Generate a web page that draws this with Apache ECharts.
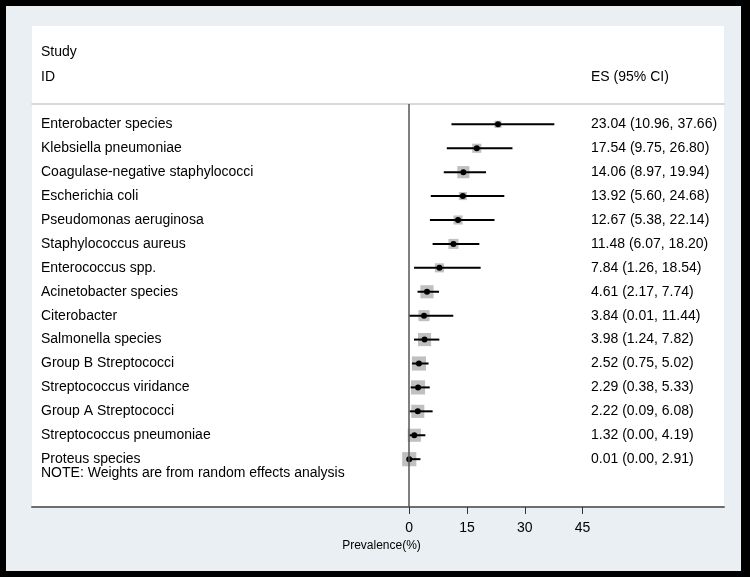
<!DOCTYPE html>
<html><head><meta charset="utf-8">
<script src="https://cdn.jsdelivr.net/npm/echarts@6/dist/echarts.min.js"></script>
<style>html,body{margin:0;padding:0;background:#000;} #c{width:750px;height:577px;}</style>
</head><body><div id="c"></div>
<script>
const studies = [
  'Enterobacter species','Klebsiella pneumoniae','Coagulase-negative staphylococci','Escherichia coli',
  'Pseudomonas aeruginosa','Staphylococcus aureus','Enterococcus spp.','Acinetobacter species',
  'Citerobacter','Salmonella species','Group B Streptococci','Streptococcus viridance',
  'Group A Streptococci','Streptococcus pneumoniae','Proteus species'
];
const es = [23.04,17.54,14.06,13.92,12.67,11.48,7.84,4.61,3.84,3.98,2.52,2.29,2.22,1.32,0.01];
const lower = [10.96,9.75,8.97,5.60,5.38,6.07,1.26,2.17,0.01,1.24,0.75,0.38,0.09,0.00,0.00];
const upper = [37.66,26.80,19.94,24.68,22.14,18.20,18.54,7.74,11.44,7.82,5.02,5.33,6.08,4.19,2.91];
const weights = [2.5,4.1,7.3,3.2,4.1,5.0,4.1,8.5,6.1,8.5,9.9,9.9,8.5,8.5,9.9];
const xTicks = [0,15,30,45];

const esLabels = es.map((v,i)=> v.toFixed(2)+' ('+lower[i].toFixed(2)+', '+upper[i].toFixed(2)+')');
const rowIdx = studies.map((_,i)=>i);
const font = "'Liberation Sans', Arial, sans-serif";
const txt = {fontSize:14, fontWeight:'normal', color:'#000', fontFamily:font};
const X_MIN = -97.9, X_MAX = 81.7, Y_MIN = -0.85, Y_MAX = 16;

const chart = echarts.init(document.getElementById('c'), null, {renderer:'canvas'});
chart.setOption({
  backgroundColor:'#000',
  animation:false,
  textStyle:{fontFamily:font},
  graphic:[
    {type:'rect', shape:{x:6,y:6,width:735,height:565}, style:{fill:'#e9eff2'}, z:-10, silent:true},
    {type:'rect', shape:{x:32,y:26,width:692,height:481}, style:{fill:'#ffffff'}, z:-9, silent:true}
  ],
  title:[
    {text:'Study', left:41, top:45, padding:0, textStyle:txt},
    {text:'ID', left:41, top:70, padding:0, textStyle:txt},
    {text:'ES (95% CI)', left:591, top:70, padding:0, textStyle:txt},
    {text:'NOTE: Weights are from random effects analysis', left:41, top:466, padding:0, textStyle:txt}
  ],
  grid:{left:32, right:26, top:104, bottom:70},
  xAxis:[
    {type:'value', min:X_MIN, max:X_MAX, position:'bottom',
     axisLine:{show:true, onZero:false, lineStyle:{color:'#6e6e6e', width:2}},
     axisTick:{show:true, customValues:xTicks, length:7, lineStyle:{color:'#333', width:1}},
     axisLabel:{customValues:xTicks, fontSize:14, color:'#000', margin:14},
     splitLine:{show:false},
     name:'Prevalence(%)', nameLocation:'middle', nameGap:27,
     nameTextStyle:{fontSize:12, color:'#000', padding:[0,0,0,7]}},
    {type:'value', min:X_MIN, max:X_MAX, position:'top',
     axisLine:{show:true, onZero:false, lineStyle:{color:'#d9d9d9', width:2}},
     axisTick:{show:false}, axisLabel:{show:false}, splitLine:{show:false}}
  ],
  yAxis:[
    {type:'value', inverse:true, min:Y_MIN, max:Y_MAX, position:'left',
     axisLine:{show:false}, axisTick:{show:false}, splitLine:{show:false},
     axisLabel:{customValues:rowIdx, formatter:v=>studies[v], inside:true, margin:9, fontSize:14, color:'#000'}},
    {type:'value', inverse:true, min:Y_MIN, max:Y_MAX, position:'right',
     axisLine:{show:false}, axisTick:{show:false}, splitLine:{show:false},
     axisLabel:{customValues:rowIdx, formatter:v=>esLabels[v], inside:true, align:'left', margin:133, fontSize:14, color:'#000'}}
  ],
  series:[
    {type:'scatter', name:'weight', symbol:'rect', z:2,
     data:es.map((v,i)=>[v,i]),
     symbolSize:(val,p)=>Math.sqrt(weights[p.dataIndex])*4.5,
     itemStyle:{color:'#c0c0c0', opacity:1},
     markLine:{silent:true, symbol:'none', label:{show:false}, animation:false,
       lineStyle:{color:'#555', width:1.5, type:'solid'}, data:[{xAxis:0}]}},
    {type:'custom', name:'ci', z:3,
     data:lower.map((l,i)=>[l, upper[i], i]),
     encode:{x:[0,1], y:2},
     renderItem:(params, api)=>{
       const p1 = api.coord([api.value(0), api.value(2)]);
       const p2 = api.coord([api.value(1), api.value(2)]);
       return {type:'line', shape:{x1:p1[0], y1:p1[1], x2:p2[0], y2:p2[1]},
               style:{stroke:'#000', lineWidth:2}};
     }},
    {type:'scatter', name:'es', symbol:'circle', symbolSize:6, z:4,
     data:es.map((v,i)=>[v,i]),
     itemStyle:{color:'#000', opacity:1}}
  ]
});
</script>
</body></html>
